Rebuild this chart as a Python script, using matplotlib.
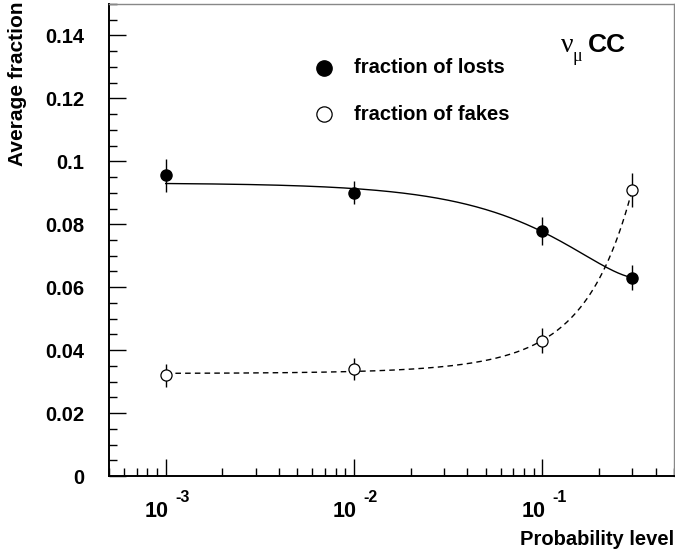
import numpy as np
import matplotlib
matplotlib.use("Agg")
import matplotlib.pyplot as plt
from matplotlib.ticker import FixedLocator, LogLocator, MultipleLocator, NullFormatter

# data
prob = [1e-3, 1e-2, 1e-1, 0.3]
lost = [0.0955, 0.0900, 0.0779, 0.0630]
lost_err = [0.0053, 0.0036, 0.0045, 0.0040]
fake = [0.0320, 0.0339, 0.0430, 0.0910]
fake_err = [0.0036, 0.0035, 0.0040, 0.0054]
decades = [-3, -2, -1]

plt.rcParams['font.family'] = ['Liberation Sans', 'DejaVu Sans']
plt.rcParams['font.weight'] = 'bold'

fig = plt.figure(figsize=(6.75, 5.52), dpi=100)
ax = fig.add_axes([109 / 675, 76 / 552, 565 / 675, 472 / 552])

# fitted curves (quadratic in x, weighted by errors)
xs = np.logspace(-3, np.log10(0.3), 300)
pl = np.polyfit(prob, lost, 2, w=1 / np.array(lost_err))
pf = np.polyfit(prob, fake, 2, w=1 / np.array(fake_err))
ax.plot(xs, np.polyval(pl, xs), color='black', lw=1.0)
ax.plot(xs, np.polyval(pf, xs), color='black', lw=1.0, ls=(0, (4, 3)))

ax.errorbar(prob, lost, yerr=lost_err, fmt='o', color='black', mfc='black',
            ms=8, elinewidth=1, capsize=0, zorder=3)
ax.errorbar(prob, fake, yerr=fake_err, fmt='o', color='black', mfc='white',
            ms=8, mew=0.9, elinewidth=1, capsize=0, zorder=3)

ax.set_xscale('log')
ax.set_xlim(5e-4, 0.5)
ax.set_ylim(0, 0.15)

ax.yaxis.set_major_locator(FixedLocator([0, 0.02, 0.04, 0.06, 0.08, 0.1, 0.12, 0.14]))
ax.yaxis.set_minor_locator(MultipleLocator(0.005))
ax.set_yticklabels(['0', '0.02', '0.04', '0.06', '0.08', '0.1', '0.12', '0.14'],
                   fontsize=14.5, fontweight='bold')
ax.xaxis.set_major_locator(FixedLocator([1e-3, 1e-2, 1e-1]))
ax.xaxis.set_minor_locator(LogLocator(base=10, subs=np.arange(2, 10)))
ax.xaxis.set_major_formatter(NullFormatter())
ax.xaxis.set_minor_formatter(NullFormatter())

ax.tick_params(which='both', direction='in', top=False, right=False, width=1, color='black')
ax.tick_params(which='major', length=12)
ax.tick_params(which='minor', length=6)
ax.tick_params(axis='y', pad=18)

for s in ['left', 'bottom']:
    ax.spines[s].set_linewidth(1.4)
for s in ['top', 'right']:
    ax.spines[s].set_color('#888888')
    ax.spines[s].set_linewidth(1.0)

# ROOT-style tick labels 10^n
xt = ax.get_xaxis_transform()
for d in decades:
    ax.annotate('10', xy=(10.0 ** d, 0), xycoords=xt, xytext=(2, -29.5),
                textcoords='offset points', ha='right', va='baseline',
                fontsize=15.5, fontweight='bold')
    ax.annotate(str(d), xy=(10.0 ** d, 0), xycoords=xt, xytext=(7, -18.7),
                textcoords='offset points', ha='left', va='baseline',
                fontsize=11.5, fontweight='bold')

fig.text(18 / 675, 1 - 1 / 552, 'Average fraction', rotation=90, ha='center',
         va='top', fontsize=15, fontweight='bold')
fig.text(674 / 675, 1 - 545 / 552, 'Probability level', ha='right', va='baseline',
         fontsize=14.5, fontweight='bold')

# legend drawn by hand
ax.plot([0.00694], [0.1298], 'o', color='black', ms=11)
ax.plot([0.00694], [0.1149], 'o', color='black', mfc='white', ms=11, mew=0.9)
ax.text(0.01, 0.1298, 'fraction of losts', va='center', ha='left', fontsize=14.5, fontweight='bold')
ax.text(0.01, 0.1149, 'fraction of fakes', va='center', ha='left', fontsize=14.5, fontweight='bold')

# nu_mu CC label
ax.text(0.1262, 0.1349, 'ν', fontsize=20, fontweight='normal',
        family='Liberation Serif', va='baseline', ha='left')
ax.text(0.1450, 0.1318, 'μ', fontsize=13, fontweight='normal',
        family='Liberation Serif', va='baseline', ha='left')
ax.text(0.1750, 0.1349, 'CC', fontsize=19, fontweight='bold', va='baseline', ha='left')

fig.savefig('out.png', dpi=100)
